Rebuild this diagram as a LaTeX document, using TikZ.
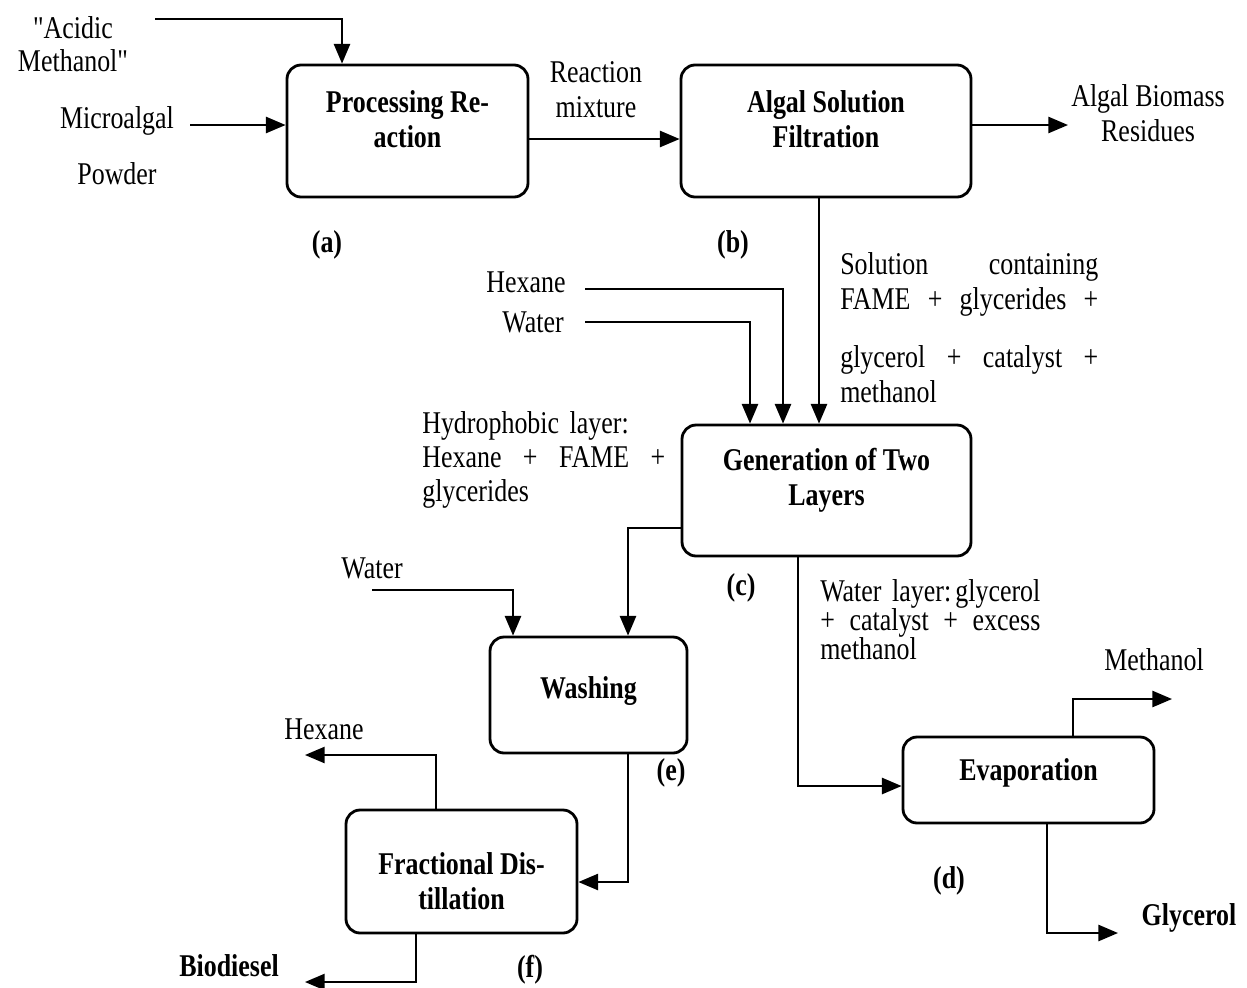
\documentclass[tikz,border=0pt]{standalone}
\usepackage{fontspec}
\setmainfont{Liberation Serif}[FakeStretch=0.82]
\newfontfamily\qf{Liberation Serif}[FakeStretch=0.82, Ligatures=TeXOff]
\usetikzlibrary{arrows.meta,calc}
\newcommand\fsz{\fontsize{22.5}{25}\selectfont}
\newcommand\sq{{\qf\symbol{"22}}}
\tikzset{
  pbox/.style={draw, line width=2pt, rounded corners=10pt, inner sep=0pt},
  blab/.style={inner sep=0pt, align=center, font=\fsz\bfseries, yshift=#1},
  blab/.default=0pt,
  txt/.style={inner sep=0pt, align=center, font=\fsz},
  btxt/.style={inner sep=0pt, align=center, font=\fsz\bfseries},
  jtxt/.style={inner sep=0pt, anchor=north west, align=left, font=\fsz},
  arr/.style={line width=1.5pt, -{Triangle[length=14pt,width=11.5pt]}}
}
\begin{document}
\begin{tikzpicture}[x=0.025cm, y=-0.025cm]
\useasboundingbox (0,0) rectangle (1247,987);
% boxes
\node[pbox, minimum width=241*0.025cm, minimum height=132*0.025cm,
  label={[blab=8.5pt]center:{Processing Re-\\action}}] (A) at (407.5,131) {};
\node[pbox, minimum width=290*0.025cm, minimum height=132*0.025cm,
  label={[blab=8.5pt]center:{Algal Solution\\Filtration}}] (B) at (826,131) {};
\node[pbox, minimum width=289*0.025cm, minimum height=131*0.025cm,
  label={[blab=7pt]center:{Generation of Two\\Layers}}] (C) at (826.5,490.5) {};
\node[pbox, minimum width=197*0.025cm, minimum height=116*0.025cm,
  label={[blab=3pt]center:{Washing}}] (W) at (588.5,695) {};
\node[pbox, minimum width=231*0.025cm, minimum height=123*0.025cm,
  label={[blab=-7pt]center:{Fractional Dis-\\tillation}}] (F) at (461.5,871.5) {};
\node[pbox, minimum width=251*0.025cm, minimum height=86*0.025cm,
  label={[blab=5pt]center:{Evaporation}}] (E) at (1028.5,780) {};
% labels
\node[btxt] (la) at (327,245) {(a)};
\node[btxt] (lb) at (733,245) {(b)};
\node[btxt] (lc) at (741,588) {(c)};
\node[btxt] (le) at (671,773) {(e)};
\node[btxt] (lf) at (530,970) {(f)};
\node[btxt] (ld) at (949,881) {(d)};
% texts
\node[txt, font=\fontsize{22.5}{23.5}\selectfont] (acid) at (73,44) {\sq Acidic\\Methanol\sq};
\node[txt] (micro) at (117,146) {Microalgal\\[15pt]Powder};
\node[txt] (react) at (596,90) {Reaction\\mixture};
\node[txt] (resid) at (1148,113) {Algal Biomass\\Residues};
\node[txt] (hex1) at (526,282) {Hexane};
\node[txt] (wat1) at (533,322) {Water};
\node[txt] (wat2) at (372,568) {Water};
\node[txt] (hex2) at (324,729) {Hexane};
\node[btxt] (bio) at (229,966) {Biodiesel};
\node[btxt] (gly) at (1189,918) {Glycerol};
\node[txt] (meth) at (1154,660) {Methanol};
\node[jtxt, text width=183.5pt] (sol) at (840,252) {Solution\hfill containing\\FAME\hfill+\hfill glycerides\hfill+\\[16pt]glycerol\hfill+\hfill catalyst\hfill+\\methanol};
\node[jtxt, text width=172.8pt, font=\fontsize{22.5}{24.2}\selectfont] (hydro) at (422,411) {Hydrophobic layer:\\Hexane\hfill+\hfill FAME\hfill+\\glycerides};
\node[jtxt, text width=156.5pt, font=\fontsize{22.5}{20.6}\selectfont] (wlay) at (820,579) {Water layer:\hfill glycerol\\+\hfill catalyst\hfill+\hfill excess\\methanol};
% connectors
\coordinate (acS) at (155,19);
\coordinate (acC) at (342,19);
\draw[arr] (acS) -- (acC) -- (acC |- A.north);
\coordinate (mS) at (190,125);
\draw[arr] (mS) -- (mS -| A.west);
\coordinate (abY) at (600,139);
\draw[arr] (abY -| A.east) -- (abY -| B.west);
\coordinate (bR) at (1068,125);
\draw[arr] (bR -| B.east) -- (bR);
\coordinate (bcX) at (819,300);
\draw[arr] (bcX |- B.south) -- (bcX |- C.north);
\coordinate (hxS) at (585,289);
\coordinate (hxC) at (783,289);
\draw[arr] (hxS) -- (hxC) -- (hxC |- C.north);
\coordinate (wtS) at (585,322);
\coordinate (wtC) at (750,322);
\draw[arr] (wtS) -- (wtC) -- (wtC |- C.north);
\coordinate (cw) at (628,528);
\draw[arr] (cw -| C.west) -- (cw) -- (cw |- W.north);
\coordinate (w2S) at (372,590);
\coordinate (w2C) at (513,590);
\draw[arr] (w2S) -- (w2C) -- (w2C |- W.north);
\coordinate (wf) at (628,882);
\draw[arr] (wf |- W.south) -- (wf) -- (wf -| F.east);
\coordinate (fh) at (436,755);
\coordinate (fhE) at (305,755);
\draw[arr] (fh |- F.north) -- (fh) -- (fhE);
\coordinate (fb) at (416,982);
\coordinate (fbE) at (305,982);
\draw[arr] (fb |- F.south) -- (fb) -- (fbE);
\coordinate (ce) at (798,786);
\draw[arr] (ce |- C.south) -- (ce) -- (ce -| E.west);
\coordinate (em) at (1073,699);
\coordinate (emE) at (1172,699);
\draw[arr] (em |- E.north) -- (em) -- (emE);
\coordinate (eg) at (1047,933);
\coordinate (egE) at (1118,933);
\draw[arr] (eg |- E.south) -- (eg) -- (egE);
\end{tikzpicture}
\end{document}
